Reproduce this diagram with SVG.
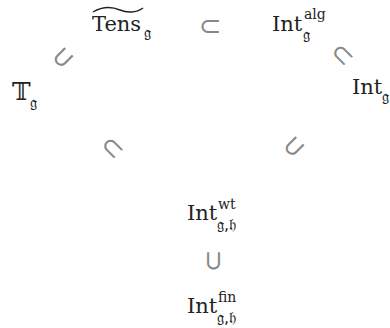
<svg xmlns="http://www.w3.org/2000/svg" width="390" height="328" viewBox="0 0 390 328">
<style>
.m{font-family:"DejaVu Serif","Liberation Serif",serif;fill:#222;font-size:21px}
.s{font-family:"DejaVu Serif","Liberation Serif",serif;fill:#222;font-size:14px}
.f{font-family:"DejaVu Sans","Noto Sans","DejaVu Serif",serif;fill:#222;font-size:16px}
.r{font-family:"DejaVu Sans","Liberation Sans",sans-serif;fill:#888;font-size:27px;text-anchor:middle;dominant-baseline:central}
</style>
<rect width="390" height="328" fill="#fff"/>
<g id="tens">
<path d="M93 12 C103 6,113 7,120 10 C127 13,136 13,143 8" fill="none" stroke="#222" stroke-width="1.4"/>
<text class="m" x="92" y="31">Tens</text><text class="f" x="144" y="38">𝔤</text>
</g>
<g id="intalg">
<text class="m" x="272" y="31">Int</text><text class="s" x="304" y="19">alg</text><text class="f" x="303" y="40">𝔤</text>
</g>
<g id="T">
<text class="m" x="12" y="100" style="font-size:25px">𝕋</text><text class="f" x="30" y="108">𝔤</text>
</g>
<g id="intg">
<text class="m" x="352" y="94">Int</text><text class="f" x="382" y="102">𝔤</text>
</g>
<g id="intwt">
<text class="m" x="187" y="220">Int</text><text class="s" x="218" y="209">wt</text><text class="f" x="217" y="230">𝔤,𝔥</text>
</g>
<g id="intfin">
<text class="m" x="187" y="313">Int</text><text class="s" x="218" y="302">fin</text><text class="f" x="217" y="323">𝔤,𝔥</text>
</g>
<g id="connectors">
<text class="r" x="210" y="25">⊂</text>
<text class="r" transform="rotate(-45 62 57)" x="62" y="57">⊂</text>
<text class="r" transform="rotate(45 343 54)" x="343" y="54">⊂</text>
<text class="r" transform="rotate(45 113 147)" x="113" y="147">⊂</text>
<text class="r" transform="rotate(-45 293 146)" x="293" y="146">⊂</text>
<text class="r" transform="rotate(-90 212 261)" x="212" y="261">⊂</text>
</g>
</svg>
